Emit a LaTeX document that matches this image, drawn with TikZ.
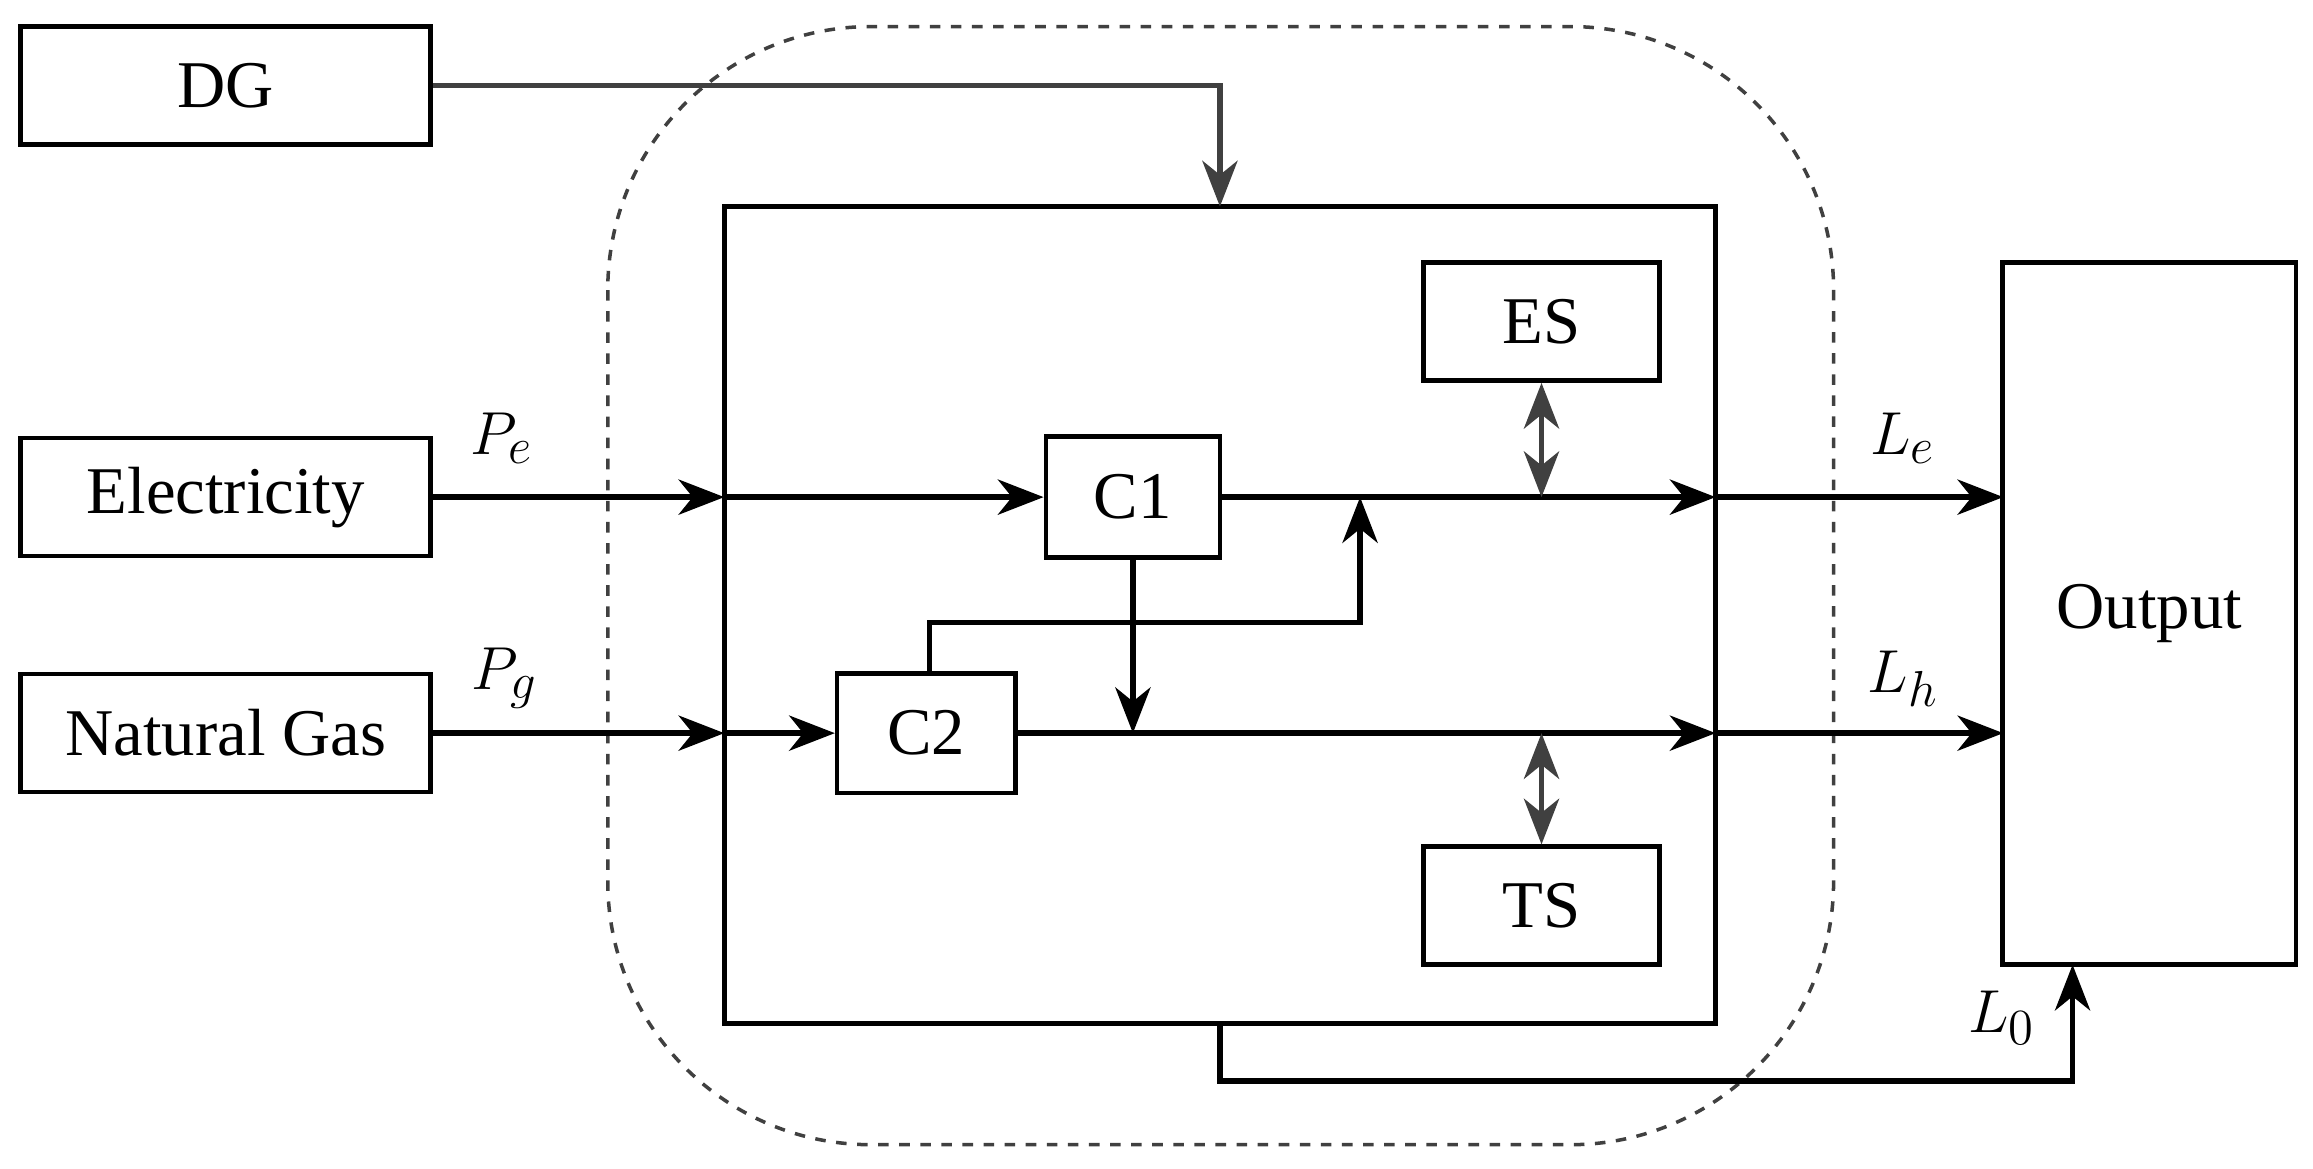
\documentclass[tikz,border=0pt]{standalone}
\usepackage{fontspec}
\setmainfont{Liberation Serif}
\usetikzlibrary{arrows.meta}
\begin{document}
\begin{tikzpicture}[x=0.01475cm,y=-0.01475cm,
  box/.style={draw,line width=1.3pt,inner sep=0pt,font=\fontsize{19}{22}\selectfont},
  ar/.style={line width=1.6pt,-{Stealth[length=13pt,width=10pt,inset=4pt]}},
  gar/.style={line width=1.6pt,draw=black!75,-{Stealth[length=13pt,width=10pt,inset=4pt]}},
  dar/.style={line width=1.6pt,draw=black!75,{Stealth[length=13pt,width=10pt,inset=4pt]}-{Stealth[length=13pt,width=10pt,inset=4pt]}},
  lab/.style={font=\fontsize{19}{22}\selectfont\itshape}]
\useasboundingbox (0,0) rectangle (1568,792);
\draw[dashed,line width=1pt,black!75,rounded corners=75] (412,18) rectangle (1243,776);
\node[box,minimum width=278*0.01475cm,minimum height=80*0.01475cm] (dg) at (153,58) {DG};
\node[box,minimum width=278*0.01475cm,minimum height=80*0.01475cm] (el) at (153,337) {Electricity};
\node[box,minimum width=278*0.01475cm,minimum height=80*0.01475cm] (ng) at (153,497) {Natural Gas};
\node[box,minimum width=672*0.01475cm,minimum height=554*0.01475cm] (mb) at (827,417) {};
\node[box,minimum width=160*0.01475cm,minimum height=80*0.01475cm] (es) at (1045,218) {ES};
\node[box,minimum width=160*0.01475cm,minimum height=80*0.01475cm] (ts) at (1045,614) {TS};
\node[box,minimum width=118*0.01475cm,minimum height=82*0.01475cm] (c1) at (768,337) {C1};
\node[box,minimum width=121*0.01475cm,minimum height=81*0.01475cm] (c2) at (628,497) {C2};
\node[box,minimum width=199*0.01475cm,minimum height=476*0.01475cm] (out) at (1457,416) {Output};
\coordinate (e1) at (491,337); \coordinate (e2) at (1163,337);
\coordinate (g1) at (491,497); \coordinate (g2) at (1163,497);
\coordinate (o1) at (1358,337); \coordinate (o2) at (1358,497);
\coordinate (jE) at (922,337); \coordinate (jG) at (768,497);
\draw[gar] (dg.east) -| (827,140);
\draw[ar] (el.east) -- (e1);
\draw[ar] (e1) -- (c1.west);
\draw[ar] (c1.east) -- (e2);
\draw[ar] (e2) -- (o1);
\draw[ar] (ng.east) -- (g1);
\draw[ar] (g1) -- (c2.west);
\draw[ar] (c2.east) -- (g2);
\draw[ar] (g2) -- (o2);
\draw[ar] (c1.south) -- (jG);
\draw[ar] (630,456) -- (630,422) -- (922,422) -- (jE);
\draw[dar] (es.south) -- (1045,337);
\draw[dar] (1045,497) -- (ts.north);
\draw[ar] (827,694) -- (827,733) -- (1405,733) -- (1405,654);
\node[lab] at (340,297) {$P_e$};
\node[lab] at (342,460) {$P_g$};
\node[lab] at (1290,297) {$L_e$};
\node[lab] at (1290,460) {$L_h$};
\node[lab] at (1357,690) {$L_0$};
\end{tikzpicture}
\end{document}
